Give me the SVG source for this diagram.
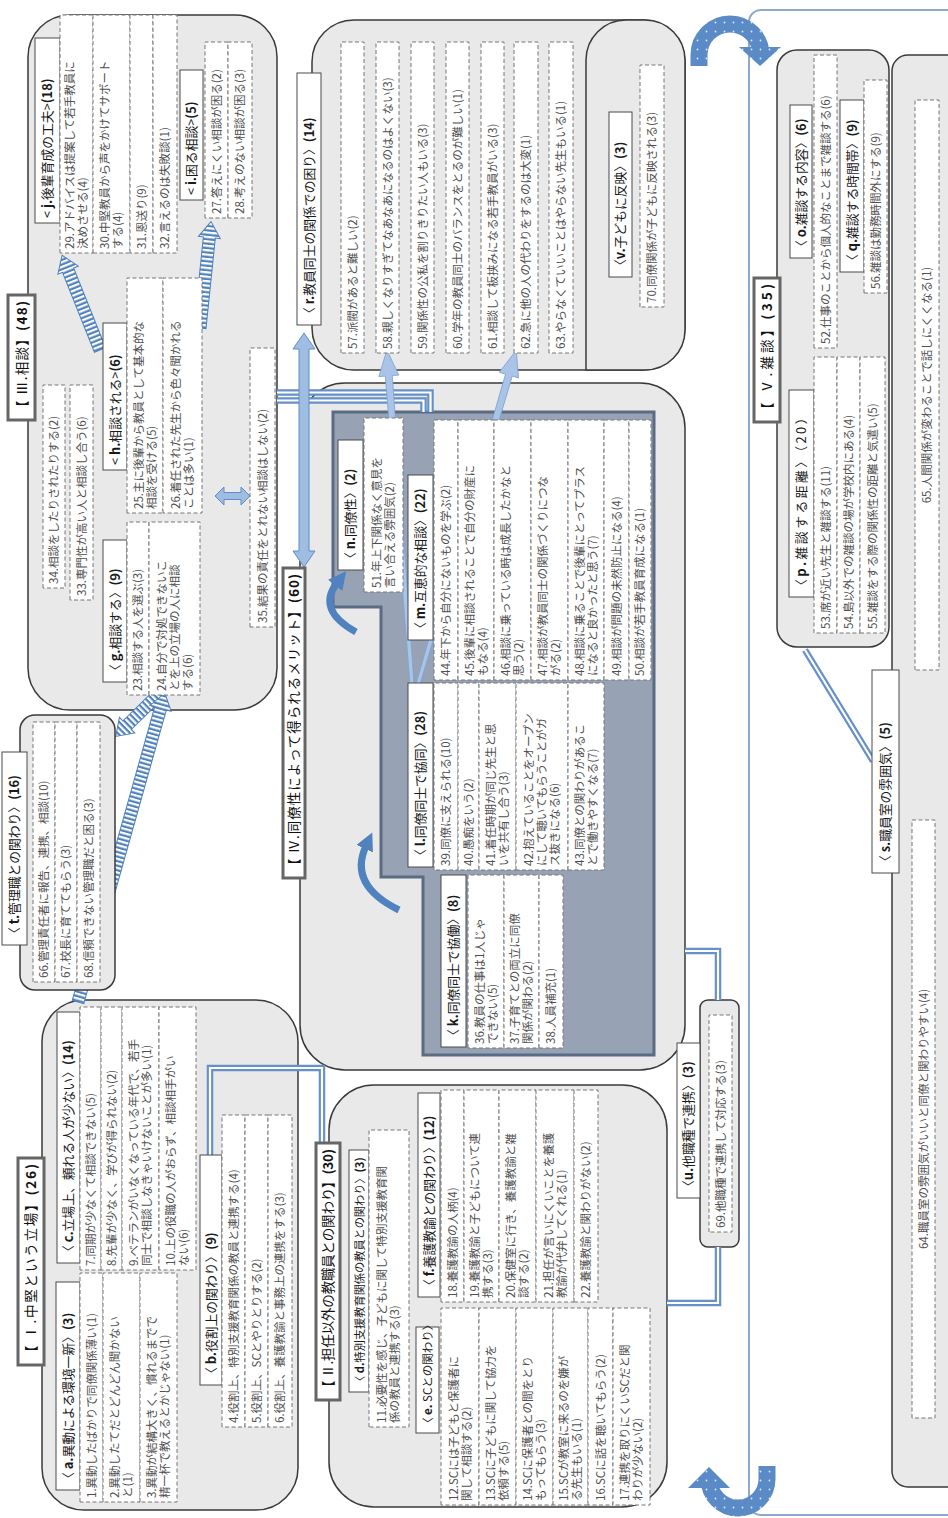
<svg xmlns="http://www.w3.org/2000/svg" width="948" height="1518" viewBox="0 0 948 1518">
<defs>
<style>
.fr{fill:#e9e9e9;stroke:#3a3a3a;stroke-width:1.5}
.ib{fill:#fff;stroke:#777;stroke-width:1;stroke-dasharray:4 2.5}
.lbx{fill:#fff;stroke:#4a4a4a;stroke-width:1}
.tbx{fill:#fff;stroke:#666;stroke-width:3}
.it{font-family:"Noto Sans CJK JP",sans-serif;font-size:11.5px;fill:#505050}
.lb{font-family:"Noto Sans CJK JP",sans-serif;font-size:12.8px;fill:#1a1a1a}
.ti{font-family:"Noto Sans CJK JP",sans-serif;font-size:13.5px;fill:#111}
.b{font-weight:700}
.ctr{text-anchor:middle}
.dlo{fill:none;stroke:#6590c8;stroke-width:6.5}
.dli{fill:none;stroke:#fff;stroke-width:2.2}
.hat{fill:url(#stripes);stroke:#4f81bd;stroke-width:1}
.blk{fill:#9fbde2;stroke:#5f8cc5;stroke-width:1}
.tap{fill:#a9c4e6;stroke:#7ea3d3;stroke-width:0.8}
.crv{fill:none;stroke:#4f82bf;stroke-width:7;marker-end:url(#ch)}
.u{fill:none;stroke:url(#dots);stroke-width:17}
</style>
<pattern id="stripes" patternUnits="userSpaceOnUse" width="4.4" height="10"><rect width="4.4" height="10" fill="#fff"/><rect width="2.2" height="10" fill="#4f81bd"/></pattern>
<pattern id="dots" patternUnits="userSpaceOnUse" width="9" height="9"><rect width="9" height="9" fill="#5b8bc7"/><circle cx="4.5" cy="4.5" r="0.9" fill="#dfe9f6"/></pattern>
<marker id="ch" markerUnits="userSpaceOnUse" markerWidth="18" markerHeight="18" viewBox="0 0 18 18" refX="3" refY="9" orient="auto"><path d="M0,0 L18,9 L0,18 z" fill="#4f82bf"/></marker>
</defs>

<g id="frames" transform="translate(0,1518) rotate(-90)">
 <g id="frame-V"><rect x="3" y="749" width="1505" height="215" rx="12" fill="#fff" stroke="#8ea9cc" stroke-width="2"/></g>
 <g id="frame-s"><rect class="fr" x="31" y="892" width="1432" height="75" rx="16"/></g>
 <g id="frame-opq"><rect class="fr" x="871" y="777" width="597" height="112" rx="20"/></g>
 <g id="frame-I"><rect class="fr" x="8" y="42" width="510" height="256" rx="42"/></g>
 <g id="frame-II"><rect class="fr" x="11" y="329" width="422" height="338" rx="45"/></g>
 <g id="frame-III"><rect class="fr" x="808" y="28" width="695" height="249" rx="42"/></g>
 <g id="frame-IV"><rect class="fr" x="448" y="300" width="687" height="385" rx="45"/><polygon points="1106,333 1106,654 463,654 463,423 641,423 641,381 911,381 911,333" fill="#97a2b4" stroke="#5b6b84" stroke-width="3"/></g>
 <g id="frame-r"><rect class="fr" x="1148" y="312" width="350" height="373" rx="42"/></g>
 <g id="frame-v"><path class="fr" d="M1148 586 H1458 A40 40 0 0 1 1498 626 V645 A40 40 0 0 1 1458 685 H1188 A40 40 0 0 1 1148 645 Z"/></g>
 <g id="frame-u"><rect class="fr" x="271" y="700" width="247" height="39" rx="8"/></g>
</g>

<g id="connectors">
 <path class="dlo" d="M210 1155 V1068 H322 V1143"/><path class="dli" d="M210 1155 V1068 H322 V1143"/>
 <path class="dlo" d="M667 1303 H718 V1247"/><path class="dli" d="M667 1303 H718 V1247"/>
 <path class="dlo" d="M685 951 H718 V1000"/><path class="dli" d="M685 951 H718 V1000"/>
 <path class="dlo" d="M277 392.5 H430.5 V412"/><path class="dli" d="M277 392.5 H430.5 V412"/>
 <path class="dlo" d="M277 400.5 H423.5 V412"/><path class="dli" d="M277 400.5 H423.5 V412"/>
 <path class="dlo" d="M805 650 L873 761"/><path class="dli" d="M805 650 L873 761"/>
 <polygon class="tap" transform="translate(412,684) rotate(-94.3)" points="0,-2 309,-3.5 309,-10 335,0 309,10 309,3.5 0,2"/>
 <polygon class="tap" transform="translate(418,684) rotate(-73.6)" points="0,-2 322,-3.5 322,-10 348,0 322,10 322,3.5 0,2"/>
 <polygon class="blk" transform="translate(304,567) rotate(-90)" points="0,0 16,-11 16,-5 218,-5 218,-11 234,0 218,11 218,5 16,5 16,11"/>
 <polygon class="blk" transform="translate(215,496)" points="0,0 9,-9 9,-3.5 26,-3.5 26,-9 35,0 26,9 26,3.5 9,3.5 9,9"/>
 <polygon class="hat" transform="translate(100,350) rotate(-111.8)" points="0,-6 86,-6 86,-11 102,0 86,11 86,6 0,6"/>
 <polygon class="hat" transform="translate(200,328) rotate(-84.1)" points="0,-6 91,-6 91,-11 107,0 91,11 91,6 0,6"/>
 <polygon class="hat" transform="translate(160,693) rotate(135.6)" points="0,-6 46,-6 46,-11 62,0 46,11 46,6 0,6"/>
 <polygon class="hat" transform="translate(78,1002) rotate(-74.3)" points="0,-6 305,-6 305,-11 321,0 305,11 305,6 0,6"/>
 <path class="crv" d="M356 632 Q316 610 337 583"/>
 <path class="crv" d="M399 910 Q348 885 366 846"/>
 <path class="u" d="M699 66 V55 A31 31 0 0 1 761 55 V49"/>
 <polygon points="739,47 781,47 760,66" fill="url(#dots)"/>
 <path class="u" d="M767 1466 V1479 A29 29 0 0 1 709 1479 V1486"/>
 <polygon points="688,1488 730,1488 709,1467" fill="url(#dots)"/>
</g>

<g id="nodes" transform="translate(0,1518) rotate(-90)">
 <g id="title-I"><rect class="tbx" x="153" y="18" width="207" height="26"/><text class="ti" x="159" y="36" textLength="195"><tspan class="b">【</tspan> Ⅰ.中堅という立場<tspan class="b">】(26)</tspan></text></g>
 <g id="node-a">
  <rect class="lbx" x="28" y="56" width="208" height="24"/>
  <text class="lb" x="33" y="72.5">〈 <tspan class="b">a.</tspan>異動による環境一新〉<tspan class="b">(3)</tspan></text>
  <rect class="ib" x="16" y="80" width="229" height="23"/>
  <rect class="ib" x="16" y="103" width="229" height="37"/>
  <rect class="ib" x="16" y="140" width="229" height="37"/>
  <text class="it" x="20" y="95.5">1.異動したばかりで同僚関係薄い(1)</text>
  <text class="it" x="20" y="119">2.異動したてだとどんどん聞かない<tspan x="20" y="132">と(1)</tspan></text>
  <text class="it" x="20" y="156">3.異動が結構大きく、慣れるまでで<tspan x="20" y="169">精一杯で教えるとかじゃない(1)</tspan></text>
 </g>
 <g id="node-c">
  <rect class="lbx" x="255" y="57" width="251" height="23"/>
  <text class="lb" x="260" y="73">〈 <tspan class="b">c.</tspan>立場上、頼れる人が少ない〉<tspan class="b">(14)</tspan></text>
  <rect class="ib" x="248" y="80" width="263" height="21"/>
  <rect class="ib" x="248" y="101" width="263" height="21"/>
  <rect class="ib" x="248" y="122" width="263" height="37"/>
  <rect class="ib" x="248" y="159" width="263" height="37"/>
  <text class="it" x="252" y="94.5">7.同期が少なくて相談できない(5)</text>
  <text class="it" x="252" y="115.5">8.先輩が少なく、学びが得られない(2)</text>
  <text class="it" x="252" y="138">9.ベテランがいなくなっている年代で、若手<tspan x="252" y="151">同士で相談しなきゃいけないことが多い(1)</tspan></text>
  <text class="it" x="252" y="175">10.上の役職の人がおらず、相談相手がい<tspan x="252" y="188">ない(6)</tspan></text>
 </g>
 <g id="node-b">
  <rect class="lbx" x="133" y="200" width="230" height="22"/>
  <text class="lb" x="138" y="215.5">〈 <tspan class="b">b.</tspan>役割上の関わり〉<tspan class="b">(9)</tspan></text>
  <rect class="ib" x="91" y="222" width="312" height="23"/>
  <rect class="ib" x="91" y="245" width="312" height="23"/>
  <rect class="ib" x="91" y="268" width="312" height="24"/>
  <text class="it" x="95" y="237.5">4.役割上、特別支援教育関係の教員と連携する(4)</text>
  <text class="it" x="95" y="260.5">5.役割上、SCとやりとりする(2)</text>
  <text class="it" x="95" y="284">6.役割上、養護教諭と事務上の連携をする(3)</text>
 </g>
 <g id="title-II"><rect class="tbx" x="118" y="316" width="257" height="24"/><text class="ti" x="124" y="333" textLength="245"><tspan class="b">【</tspan> Ⅱ.担任以外の教職員との関わり<tspan class="b">】(30)</tspan></text></g>
 <g id="node-d">
  <rect class="lbx" x="126" y="349" width="242" height="20"/>
  <text class="lb" x="131" y="363.5" style="font-size:11.2px">〈 <tspan class="b">d.</tspan>特別支援教育関係の教員との関わり〉<tspan class="b">(3)</tspan></text>
  <rect class="ib" x="91" y="369" width="297" height="40"/>
  <text class="it" x="95" y="386">11.必要性を感じ、子どもに関して特別支援教育関<tspan x="95" y="399">係の教員と連携する(3)</tspan></text>
 </g>
 <g id="node-e">
  <rect class="lbx" x="85" y="416" width="106" height="23"/>
  <text class="lb" x="89" y="431.5" style="font-size:11.5px">〈 <tspan class="b">e.</tspan> SCとの関わり〉</text>
  <rect class="ib" x="13" y="441" width="197" height="38"/>
  <rect class="ib" x="13" y="479" width="197" height="37"/>
  <rect class="ib" x="13" y="516" width="197" height="37"/>
  <rect class="ib" x="13" y="553" width="197" height="35"/>
  <rect class="ib" x="13" y="588" width="197" height="25"/>
  <rect class="ib" x="13" y="613" width="197" height="37"/>
  <text class="it" x="17" y="457.5">12.SCには子どもと保護者に<tspan x="17" y="470.5">関して相談する(2)</tspan></text>
  <text class="it" x="17" y="495">13.SCに子どもに関して協力を<tspan x="17" y="508">依頼する(5)</tspan></text>
  <text class="it" x="17" y="532">14.SCに保護者との間をとり<tspan x="17" y="545">もってもらう(3)</tspan></text>
  <text class="it" x="17" y="568">15.SCが教室に来るのを嫌が<tspan x="17" y="581">る先生もいる(1)</tspan></text>
  <text class="it" x="17" y="604.5">16.SCに話を聴いてもらう(2)</text>
  <text class="it" x="17" y="629">17.連携を取りにくいSCだと関<tspan x="17" y="642">わりが少ない(2)</tspan></text>
 </g>
 <g id="node-f">
  <rect class="lbx" x="221" y="418" width="204" height="22"/>
  <text class="lb" x="226" y="433.5">〈 <tspan class="b">f.</tspan>養護教諭との関わり〉<tspan class="b">(12)</tspan></text>
  <rect class="ib" x="216" y="441" width="212" height="23"/>
  <rect class="ib" x="216" y="464" width="212" height="35"/>
  <rect class="ib" x="216" y="499" width="212" height="37"/>
  <rect class="ib" x="216" y="536" width="212" height="38"/>
  <rect class="ib" x="216" y="574" width="212" height="24"/>
  <text class="it" x="220" y="456.5">18.養護教諭の人柄(4)</text>
  <text class="it" x="220" y="479">19.養護教諭と子どもについて連<tspan x="220" y="492">携する(3)</tspan></text>
  <text class="it" x="220" y="515">20.保健室に行き、養護教諭と雑<tspan x="220" y="528">談する(2)</tspan></text>
  <text class="it" x="220" y="552.5">21.担任が言いにくいことを養護<tspan x="220" y="565.5">教諭が代弁してくれる(1)</tspan></text>
  <text class="it" x="220" y="590">22.養護教諭と関わりがない(2)</text>
 </g>
 <g id="node-u">
  <rect class="lbx" x="320" y="677" width="155" height="23"/>
  <text class="lb" x="325" y="693">〈<tspan class="b">u.</tspan>他職種で連携〉<tspan class="b">(3)</tspan></text>
  <rect class="ib" x="286" y="709" width="217" height="23"/>
  <text class="it" x="290" y="724.5">69.他職種で連携して対応する(3)</text>
 </g>
 <g id="title-III"><rect class="tbx" x="1098" y="8" width="125" height="27"/><text class="ti" x="1104" y="26.5" textLength="113"><tspan class="b">【</tspan> Ⅲ.相談<tspan class="b">】(48)</tspan></text></g>
 <g id="node-j">
  <rect class="lbx" x="1295" y="35" width="185" height="25"/>
  <text class="lb" x="1300" y="52">&lt; <tspan class="b">j.</tspan>後輩育成の工夫&gt;<tspan class="b">(18)</tspan></text>
  <rect class="ib" x="1265" y="60" width="238" height="33"/>
  <rect class="ib" x="1265" y="93" width="238" height="37"/>
  <rect class="ib" x="1265" y="130" width="238" height="23"/>
  <rect class="ib" x="1265" y="153" width="238" height="24"/>
  <text class="it" x="1269" y="74">29.アドバイスは提案して若手教員に<tspan x="1269" y="87">決めさせる(4)</tspan></text>
  <text class="it" x="1269" y="109">30.中堅教員から声をかけてサポート<tspan x="1269" y="122">する(4)</tspan></text>
  <text class="it" x="1269" y="145.5">31.恩送り(9)</text>
  <text class="it" x="1269" y="169">32.言えるのは失敗談(1)</text>
 </g>
 <g id="node-i">
  <rect class="lbx" x="1318" y="180" width="130" height="23"/>
  <text class="lb" x="1323" y="196">&lt; <tspan class="b">i.</tspan>困る相談&gt;<tspan class="b">(5)</tspan></text>
  <rect class="ib" x="1300" y="205" width="176" height="23"/>
  <rect class="ib" x="1300" y="228" width="176" height="24"/>
  <text class="it" x="1304" y="220.5">27.答えにくい相談が困る(2)</text>
  <text class="it" x="1304" y="244">28.考えのない相談が困る(3)</text>
 </g>
 <g id="node-h">
  <rect class="lbx" x="1048" y="103" width="147" height="24"/>
  <text class="lb" x="1053" y="119.5">&lt; <tspan class="b">h.</tspan>相談される&gt;<tspan class="b">(6)</tspan></text>
  <rect class="ib" x="1005" y="127" width="235" height="36"/>
  <rect class="ib" x="1005" y="163" width="235" height="39"/>
  <text class="it" x="1009" y="142.5">25.主に後輩から教員として基本的な<tspan x="1009" y="155.5">相談を受ける(5)</tspan></text>
  <text class="it" x="1009" y="180">26.着任された先生から色々聞かれる<tspan x="1009" y="193">ことは多い(1)</tspan></text>
 </g>
 <g id="node-g">
  <rect class="lbx" x="836" y="103" width="142" height="24"/>
  <text class="lb" x="841" y="119.5">〈 <tspan class="b">g.</tspan>相談する〉<tspan class="b">(9)</tspan></text>
  <rect class="ib" x="823" y="127" width="173" height="22"/>
  <rect class="ib" x="823" y="149" width="173" height="51"/>
  <text class="it" x="827" y="142">23.相談する人を選ぶ(3)</text>
  <text class="it" x="827" y="165.5">24.自分で対処できないこ<tspan x="827" y="178.5">とを上の立場の人に相談</tspan><tspan x="827" y="191.5">する(6)</tspan></text>
 </g>
 <g id="node-34"><rect class="ib" x="930" y="43" width="203" height="22"/><text class="it" x="934" y="58">34.相談をしたりされたりする(2)</text></g>
 <g id="node-33"><rect class="ib" x="918" y="70" width="215" height="23"/><text class="it" x="922" y="85.5">33.専門性が高い人と相談し合う(6)</text></g>
 <g id="node-35"><rect class="ib" x="891" y="250" width="279" height="25"/><text class="it" x="895" y="266.5">35.結果の責任をとれない相談はしない(2)</text></g>
 <g id="node-t">
  <rect class="fr" x="528" y="20" width="275" height="95" rx="15"/>
  <rect class="lbx" x="573" y="2" width="193" height="25"/>
  <text class="lb" x="578" y="19">〈 <tspan class="b">t.</tspan>管理職との関わり〉<tspan class="b">(16)</tspan></text>
  <rect class="ib" x="536" y="33" width="260" height="22"/>
  <rect class="ib" x="536" y="55" width="260" height="22"/>
  <rect class="ib" x="536" y="77" width="260" height="23"/>
  <text class="it" x="540" y="48">66.管理責任者に報告、連携、相談(10)</text>
  <text class="it" x="540" y="70">67.校長に育ててもらう(3)</text>
  <text class="it" x="540" y="92.5">68.信頼できない管理職だと困る(3)</text>
 </g>
 <g id="title-IV"><rect class="tbx" x="640" y="283" width="310" height="22"/><text class="ti" x="646" y="298.5" textLength="298"><tspan class="b">【</tspan> Ⅳ.同僚性によって得られるメリット<tspan class="b">】(60)</tspan></text></g>
 <g id="node-n">
  <rect class="lbx" x="948" y="338" width="130" height="25"/>
  <text class="lb" x="953" y="355">〈 <tspan class="b">n.</tspan>同僚性〉<tspan class="b">(2)</tspan></text>
  <rect class="ib" x="926" y="364" width="174" height="39"/>
  <text class="it" x="930" y="381">51.年上下関係なく意見を<tspan x="930" y="394">言い合える雰囲気(2)</tspan></text>
 </g>
 <g id="node-m">
  <rect class="lbx" x="878" y="408" width="165" height="25"/>
  <text class="lb" x="883" y="425">〈 <tspan class="b">m.</tspan>互恵的な相談〉<tspan class="b">(22)</tspan></text>
  <rect class="ib" x="838" y="434" width="260" height="24"/>
  <rect class="ib" x="838" y="458" width="260" height="36"/>
  <rect class="ib" x="838" y="494" width="260" height="37"/>
  <rect class="ib" x="838" y="531" width="260" height="37"/>
  <rect class="ib" x="838" y="568" width="260" height="36"/>
  <rect class="ib" x="838" y="604" width="260" height="25"/>
  <rect class="ib" x="838" y="629" width="260" height="22"/>
  <text class="it" x="842" y="450">44.年下から自分にないものを学ぶ(2)</text>
  <text class="it" x="842" y="473.5">45.後輩に相談されることで自分の財産に<tspan x="842" y="486.5">もなる(4)</tspan></text>
  <text class="it" x="842" y="510">46.相談に乗っている時は成長したかなと<tspan x="842" y="523">思う(2)</tspan></text>
  <text class="it" x="842" y="547">47.相談が教員同士の関係づくりにつな<tspan x="842" y="560">がる(2)</tspan></text>
  <text class="it" x="842" y="583.5">48.相談に乗ることで後輩にとってプラス<tspan x="842" y="596.5">になると良かったと思う(7)</tspan></text>
  <text class="it" x="842" y="620.5">49.相談が問題の未然防止になる(4)</text>
  <text class="it" x="842" y="644">50.相談が若手教員育成になる(1)</text>
 </g>
 <g id="node-l">
  <rect class="lbx" x="651" y="408" width="184" height="25"/>
  <text class="lb" x="656" y="425">〈 <tspan class="b">l.</tspan>同僚同士で協同〉<tspan class="b">(28)</tspan></text>
  <rect class="ib" x="648" y="434" width="187" height="24"/>
  <rect class="ib" x="648" y="458" width="187" height="21"/>
  <rect class="ib" x="648" y="479" width="187" height="37"/>
  <rect class="ib" x="648" y="516" width="187" height="52"/>
  <rect class="ib" x="648" y="568" width="187" height="36"/>
  <text class="it" x="652" y="450">39.同僚に支えられる(10)</text>
  <text class="it" x="652" y="472.5">40.愚痴をいう(2)</text>
  <text class="it" x="652" y="495">41.着任時期が同じ先生と思<tspan x="652" y="508">いを共有し合う(3)</tspan></text>
  <text class="it" x="652" y="533">42.抱えていることをオープン<tspan x="652" y="546">にして聴いてもらうことがガ</tspan><tspan x="652" y="559">ス抜きになる(6)</tspan></text>
  <text class="it" x="652" y="583.5">43.同僚との関わりがあるこ<tspan x="652" y="596.5">とで働きやすくなる(7)</tspan></text>
 </g>
 <g id="node-k">
  <rect class="lbx" x="471" y="441" width="172" height="25"/>
  <text class="lb" x="476" y="458">〈 <tspan class="b">k.</tspan>同僚同士で協働〉<tspan class="b">(8)</tspan></text>
  <rect class="ib" x="470" y="468" width="173" height="36"/>
  <rect class="ib" x="470" y="504" width="173" height="35"/>
  <rect class="ib" x="470" y="539" width="173" height="24"/>
  <text class="it" x="474" y="483.5">36.教員の仕事は1人じゃ<tspan x="474" y="496.5">できない(5)</tspan></text>
  <text class="it" x="474" y="519">37.子育てとの両立に同僚<tspan x="474" y="532">関係が関わる(2)</tspan></text>
  <text class="it" x="474" y="555">38.人員補充(1)</text>
 </g>
 <g id="node-r">
  <rect class="lbx" x="1193" y="297" width="252" height="24"/>
  <text class="lb" x="1198" y="313.5">〈 <tspan class="b">r.</tspan>教員同士の関係での困り〉<tspan class="b">(14)</tspan></text>
  <rect class="ib" x="1165" y="341" width="311" height="23"/>
  <rect class="ib" x="1165" y="376" width="311" height="23"/>
  <rect class="ib" x="1165" y="411" width="311" height="23"/>
  <rect class="ib" x="1165" y="446" width="311" height="23"/>
  <rect class="ib" x="1165" y="481" width="311" height="23"/>
  <rect class="ib" x="1165" y="514" width="311" height="24"/>
  <rect class="ib" x="1165" y="549" width="311" height="24"/>
  <text class="it" x="1169" y="356.5">57.派閥があると難しい(2)</text>
  <text class="it" x="1169" y="391.5">58.親しくなりすぎてなあなあになるのはよくない(3)</text>
  <text class="it" x="1169" y="426.5">59.関係性の公私を割りきりたい人もいる(3)</text>
  <text class="it" x="1169" y="461.5">60.学年の教員同士のバランスをとるのが難しい(1)</text>
  <text class="it" x="1169" y="496.5">61.相談して板挟みになる若手教員がいる(3)</text>
  <text class="it" x="1169" y="530">62.急に他の人の代わりをするのは大変(1)</text>
  <text class="it" x="1169" y="565">63.やらなくていいことはやらない先生もいる(1)</text>
 </g>
 <g id="node-v">
  <rect class="lbx" x="1241" y="609" width="165" height="23"/>
  <text class="lb" x="1246" y="625">〈<tspan class="b">v.</tspan>子どもに反映〉<tspan class="b">(3)</tspan></text>
  <rect class="ib" x="1211" y="640" width="242" height="24"/>
  <text class="it" x="1215" y="656">70.同僚関係が子どもに反映される(3)</text>
 </g>
 <g id="title-V"><rect class="tbx" x="1096" y="754" width="144" height="26"/><text class="ti" x="1102" y="771.5" textLength="132"><tspan class="b">【</tspan> Ⅴ.雑談<tspan class="b">】(35)</tspan></text></g>
 <g id="node-o">
  <rect class="lbx" x="1260" y="790" width="153" height="22"/>
  <text class="lb" x="1265" y="805.5">〈 <tspan class="b">o.</tspan>雑談する内容〉<tspan class="b">(6)</tspan></text>
  <rect class="ib" x="1170" y="814" width="293" height="23"/>
  <text class="it" x="1174" y="829.5">52.仕事のことから個人的なことまで雑談する(6)</text>
 </g>
 <g id="node-q">
  <rect class="lbx" x="1246" y="840" width="172" height="24"/>
  <text class="lb" x="1251" y="856.5">〈 <tspan class="b">q.</tspan>雑談する時間帯〉<tspan class="b">(9)</tspan></text>
  <rect class="ib" x="1225" y="864" width="213" height="23"/>
  <text class="it" x="1229" y="879.5">56.雑談は勤務時間外にする(9)</text>
 </g>
 <g id="node-p">
  <rect class="lbx" x="921" y="789" width="207" height="25"/>
  <text class="lb" x="926" y="806" style="letter-spacing:2.5px">〈<tspan class="b">p.</tspan>雑談する距離〉（20）</text>
  <rect class="ib" x="885" y="814" width="276" height="23"/>
  <rect class="ib" x="885" y="837" width="276" height="23"/>
  <rect class="ib" x="885" y="860" width="276" height="25"/>
  <text class="it" x="889" y="829.5">53.席が近い先生と雑談する(11)</text>
  <text class="it" x="889" y="852.5">54.島以外での雑談の場が学校内にある(4)</text>
  <text class="it" x="889" y="876.5">55.雑談をする際の関係性の距離と気遣い(5)</text>
 </g>
 <g id="node-s">
  <rect class="lbx" x="645" y="872" width="203" height="27"/>
  <text class="lb" x="650" y="890">〈 <tspan class="b">s.</tspan>職員室の雰囲気〉<tspan class="b">(5)</tspan></text>
  <rect class="ib" x="848" y="915" width="570" height="24"/>
  <text class="it ctr" x="1133" y="931">65.人間関係が変わることで話しにくくなる(1)</text>
  <rect class="ib" x="100" y="912" width="598" height="23"/>
  <text class="it ctr" x="399" y="927.5">64.職員室の雰囲気がいいと同僚と関わりやすい(4)</text>
 </g>
</g>
</svg>
